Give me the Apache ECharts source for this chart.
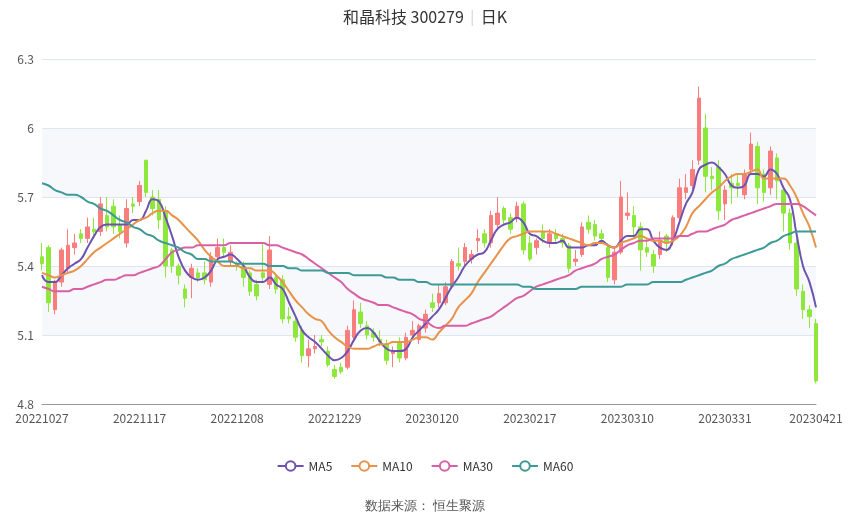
<!DOCTYPE html>
<html>
<head>
<meta charset="utf-8">
<script src="https://cdn.jsdelivr.net/npm/echarts@6/dist/echarts.min.js"></script>
<style>html,body{margin:0;padding:0;background:#fff}#kline{width:850px;height:517px}</style>
</head>
<body>
<div id="kline"></div>
<script>
// 交易日（工作日去掉休市日）
var holidays = ['20230102','20230123','20230124','20230125','20230126','20230127','20230405'];
var dates = [];
var d = new Date(2022, 9, 27);
while (dates.length < 120) {
    var wd = d.getDay();
    var s = '' + d.getFullYear() + (d.getMonth() < 9 ? '0' : '') + (d.getMonth() + 1) + (d.getDate() < 10 ? '0' : '') + d.getDate();
    if (wd !== 0 && wd !== 6 && holidays.indexOf(s) < 0) dates.push(s);
    d.setDate(d.getDate() + 1);
}

var openP = [5.44,5.48,5.21,5.33,5.39,5.48,5.54,5.52,5.56,5.55,5.62,5.66,5.58,5.50,5.67,5.68,5.86,5.70,5.69,5.64,
5.47,5.40,5.30,5.35,5.37,5.37,5.33,5.44,5.48,5.42,5.41,5.40,5.37,5.32,5.37,5.32,5.35,5.34,5.18,5.16,
5.12,5.01,5.04,5.08,5.03,4.95,4.96,4.96,5.09,5.20,5.14,5.11,5.08,5.06,5.02,5.07,5.00,5.10,5.08,5.13,
5.24,5.24,5.24,5.31,5.41,5.42,5.43,5.51,5.54,5.50,5.58,5.65,5.61,5.61,5.67,5.50,5.48,5.55,5.50,5.54,
5.52,5.49,5.42,5.45,5.59,5.58,5.54,5.48,5.34,5.46,5.62,5.62,5.57,5.48,5.45,5.45,5.53,5.51,5.61,5.72,
5.75,5.86,6.00,5.79,5.83,5.67,5.76,5.76,5.71,5.82,5.92,5.80,5.74,5.87,5.73,5.63,5.50,5.29,5.21,5.15];
var closeP = [5.41,5.24,5.33,5.47,5.49,5.50,5.52,5.57,5.55,5.67,5.57,5.57,5.55,5.65,5.66,5.75,5.72,5.65,5.60,5.40,
5.40,5.36,5.26,5.39,5.35,5.34,5.44,5.48,5.46,5.46,5.40,5.35,5.29,5.27,5.35,5.47,5.30,5.17,5.17,5.09,
5.01,5.04,5.05,5.07,4.97,4.92,4.94,5.12,5.21,5.15,5.10,5.09,5.07,4.99,5.03,5.00,5.09,5.12,5.14,5.19,
5.22,5.28,5.31,5.42,5.40,5.48,5.45,5.52,5.50,5.62,5.63,5.60,5.56,5.66,5.47,5.43,5.51,5.52,5.54,5.52,
5.50,5.39,5.43,5.57,5.56,5.53,5.52,5.35,5.46,5.70,5.63,5.57,5.47,5.46,5.40,5.51,5.50,5.61,5.74,5.74,
5.82,6.13,5.79,5.78,5.64,5.73,5.74,5.75,5.80,5.93,5.74,5.72,5.90,5.77,5.63,5.50,5.30,5.21,5.18,4.90];
var lowP = [5.38,5.20,5.19,5.31,5.37,5.45,5.50,5.50,5.52,5.53,5.55,5.54,5.52,5.48,5.63,5.66,5.70,5.62,5.56,5.35,
5.37,5.32,5.22,5.26,5.33,5.32,5.31,5.42,5.44,5.40,5.38,5.31,5.27,5.25,5.33,5.30,5.28,5.15,5.15,5.07,
4.98,4.96,5.02,5.05,4.96,4.91,4.93,4.95,5.07,5.13,5.08,5.07,5.05,4.97,4.96,4.98,4.99,5.08,5.06,5.11,
5.20,5.22,5.23,5.30,5.38,5.40,5.41,5.46,5.48,5.48,5.56,5.58,5.54,5.59,5.45,5.42,5.45,5.50,5.48,5.50,
5.48,5.37,5.40,5.44,5.54,5.51,5.50,5.33,5.32,5.45,5.60,5.52,5.38,5.44,5.37,5.43,5.46,5.49,5.59,5.69,
5.72,5.84,5.72,5.73,5.60,5.60,5.67,5.70,5.69,5.80,5.67,5.68,5.71,5.69,5.55,5.47,5.27,5.17,5.13,4.89];
var highP = [5.50,5.49,5.34,5.48,5.56,5.54,5.56,5.61,5.61,5.70,5.70,5.69,5.62,5.69,5.70,5.77,5.86,5.73,5.73,5.66,
5.48,5.41,5.32,5.41,5.39,5.42,5.46,5.52,5.52,5.49,5.42,5.42,5.38,5.34,5.50,5.53,5.37,5.36,5.22,5.18,
5.14,5.08,5.10,5.10,5.05,4.97,4.98,5.14,5.25,5.24,5.16,5.13,5.12,5.08,5.05,5.09,5.11,5.16,5.15,5.21,
5.28,5.32,5.33,5.43,5.48,5.50,5.47,5.56,5.56,5.64,5.70,5.66,5.63,5.68,5.68,5.53,5.52,5.58,5.56,5.56,
5.54,5.50,5.47,5.59,5.62,5.60,5.56,5.50,5.48,5.77,5.72,5.66,5.59,5.52,5.47,5.55,5.54,5.62,5.78,5.80,
5.86,6.18,6.06,5.83,5.86,5.75,5.80,5.80,5.82,5.98,5.94,5.82,5.92,5.89,5.75,5.65,5.52,5.32,5.23,5.17];

var ma5 = [5.36,5.33,5.33,5.36,5.39,5.41,5.43,5.48,5.53,5.57,5.58,5.58,5.58,5.58,5.60,5.60,5.64,5.69,5.68,5.61,
5.53,5.44,5.38,5.35,5.34,5.35,5.38,5.43,5.44,5.45,5.43,5.40,5.35,5.33,5.33,5.35,5.32,5.30,5.24,5.18,
5.12,5.09,5.07,5.04,5.01,4.99,5.00,5.03,5.08,5.12,5.13,5.11,5.07,5.04,5.03,5.03,5.04,5.09,5.12,5.15,
5.18,5.21,5.26,5.31,5.35,5.40,5.43,5.45,5.46,5.51,5.56,5.58,5.59,5.61,5.59,5.54,5.53,5.51,5.50,5.50,
5.51,5.48,5.48,5.48,5.49,5.49,5.51,5.49,5.48,5.51,5.53,5.53,5.56,5.56,5.51,5.48,5.47,5.51,5.59,5.67,
5.72,5.82,5.84,5.85,5.83,5.80,5.75,5.74,5.75,5.80,5.80,5.79,5.82,5.80,5.74,5.69,5.54,5.40,5.33,5.22];
var ma10 = [5.37,5.36,5.35,5.36,5.37,5.38,5.40,5.43,5.46,5.48,5.50,5.52,5.54,5.56,5.58,5.60,5.61,5.63,5.64,5.64,
5.62,5.60,5.57,5.54,5.51,5.47,5.44,5.42,5.40,5.40,5.40,5.39,5.39,5.38,5.38,5.38,5.36,5.33,5.29,5.25,
5.22,5.19,5.17,5.16,5.12,5.09,5.07,5.05,5.04,5.04,5.04,5.05,5.06,5.06,5.07,5.07,5.07,5.08,5.09,5.09,
5.08,5.11,5.14,5.17,5.22,5.25,5.28,5.33,5.37,5.41,5.45,5.49,5.52,5.53,5.54,5.55,5.55,5.55,5.55,5.54,
5.53,5.52,5.51,5.50,5.49,5.50,5.50,5.49,5.48,5.50,5.51,5.52,5.53,5.52,5.51,5.51,5.50,5.51,5.53,5.57,
5.63,5.66,5.69,5.72,5.74,5.77,5.79,5.80,5.80,5.81,5.82,5.78,5.78,5.78,5.78,5.75,5.70,5.63,5.57,5.48];
var ma30 = [5.31,5.30,5.29,5.29,5.29,5.30,5.30,5.31,5.32,5.33,5.34,5.34,5.35,5.36,5.36,5.37,5.38,5.39,5.40,5.43,
5.46,5.47,5.48,5.48,5.49,5.49,5.49,5.49,5.49,5.50,5.50,5.50,5.50,5.50,5.50,5.49,5.49,5.48,5.47,5.46,
5.45,5.43,5.41,5.39,5.37,5.35,5.33,5.30,5.28,5.26,5.25,5.24,5.23,5.23,5.22,5.21,5.20,5.19,5.17,5.16,
5.14,5.13,5.14,5.14,5.14,5.14,5.15,5.16,5.17,5.18,5.20,5.22,5.24,5.26,5.27,5.29,5.31,5.32,5.33,5.34,
5.35,5.36,5.38,5.39,5.40,5.41,5.43,5.44,5.45,5.47,5.49,5.50,5.51,5.51,5.52,5.52,5.52,5.52,5.53,5.53,
5.54,5.55,5.55,5.56,5.57,5.58,5.60,5.61,5.62,5.63,5.64,5.65,5.66,5.67,5.67,5.67,5.67,5.66,5.64,5.62];
var ma60 = [5.76,5.75,5.73,5.72,5.71,5.71,5.70,5.68,5.67,5.65,5.64,5.62,5.60,5.59,5.57,5.56,5.54,5.53,5.51,5.50,
5.49,5.48,5.46,5.45,5.43,5.43,5.42,5.42,5.42,5.42,5.41,5.41,5.41,5.41,5.41,5.40,5.40,5.40,5.39,5.39,
5.38,5.38,5.38,5.38,5.37,5.37,5.37,5.37,5.36,5.36,5.36,5.36,5.36,5.35,5.35,5.34,5.34,5.34,5.33,5.33,
5.32,5.32,5.32,5.32,5.32,5.32,5.32,5.32,5.32,5.32,5.32,5.32,5.32,5.32,5.31,5.31,5.30,5.30,5.30,5.30,
5.30,5.30,5.30,5.31,5.31,5.31,5.31,5.31,5.31,5.31,5.32,5.32,5.32,5.32,5.33,5.33,5.33,5.33,5.33,5.34,
5.35,5.36,5.37,5.38,5.40,5.41,5.43,5.44,5.45,5.46,5.47,5.48,5.50,5.51,5.53,5.54,5.55,5.55,5.55,5.55];

var kdata = [];
for (var i = 0; i < dates.length; i++) kdata.push([openP[i], closeP[i], lowP[i], highP[i]]);

var chart = echarts.init(document.getElementById('kline'));

function maSeries(name, data, color) {
    return {
        name: name, type: 'line', data: data, smooth: true,
        symbol: 'emptyCircle', symbolSize: 8, showSymbol: false,
        lineStyle: {width: 2, color: color},
        itemStyle: {color: color},
        z: 3
    };
}

option = {
    animation: false,
    textStyle: {fontFamily: '"Noto Sans CJK SC", "Noto Sans", sans-serif'},
    title: {
        text: '{a|和晶科技 300279}{s|  |  }{a|日K}',
        left: 'center',
        top: 4,
        textStyle: {
            rich: {
                a: {fontSize: 16, color: '#333', fontWeight: 'normal'},
                s: {fontSize: 14, color: '#ddd'}
            }
        }
    },
    legend: {
        bottom: 40,
        itemWidth: 26,
        itemHeight: 12,
        itemGap: 18,
        textStyle: {color: '#333', fontSize: 12},
        data: ['MA5', 'MA10', 'MA30', 'MA60']
    },
    graphic: [{
        type: 'text', left: 'center', bottom: 4,
        style: {text: '数据来源： 恒生聚源', fill: '#555', fontSize: 13}
    }],
    grid: {left: 42, right: 34, top: 59, bottom: 113},
    xAxis: {
        type: 'category',
        data: dates,
        boundaryGap: false,
        axisLine: {lineStyle: {color: '#999'}},
        axisTick: {show: false},
        axisLabel: {
            color: '#555',
            fontSize: 12,
            interval: function (idx) { return idx % 15 === 0 || idx === 119; }
        }
    },
    yAxis: {
        type: 'value',
        min: 4.8, max: 6.3, interval: 0.3,
        axisLine: {show: false},
        axisTick: {show: false},
        axisLabel: {color: '#555', fontSize: 12},
        splitLine: {lineStyle: {color: '#e0e6f1'}},
        splitArea: {show: true, areaStyle: {color: ['#ffffff', '#f6f8fc']}}
    },
    series: [
        {
            name: '日K', type: 'candlestick', data: kdata,
            barWidth: 4,
            itemStyle: {color: '#fa7d7d', color0: '#8ee83c', borderColor: '#fa7d7d', borderColor0: '#8ee83c'}
        },
        maSeries('MA5', ma5, '#6e52b0'),
        maSeries('MA10', ma10, '#e8924a'),
        maSeries('MA30', ma30, '#d960a5'),
        maSeries('MA60', ma60, '#3d9a96')
    ]
};
chart.setOption(option);
</script>
</body>
</html>
